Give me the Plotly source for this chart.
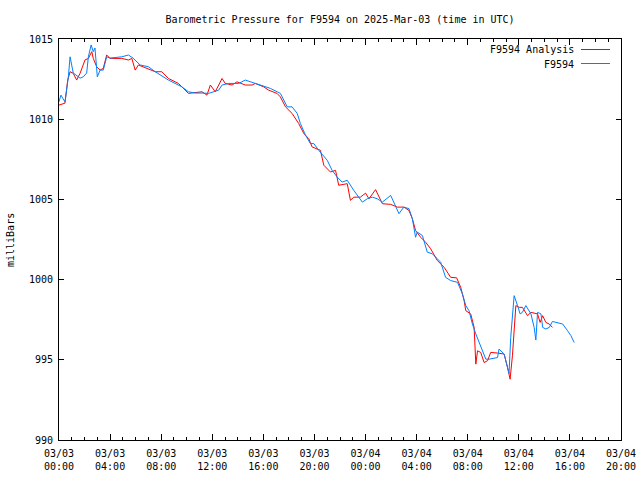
import pandas as pd
import plotly.graph_objects as go

START = pd.Timestamp("2025-03-03 00:00")

# Minutes after 2025-03-03 00:00 UTC and pressure (mb)
analysis_min = [0,28,41,52,67,83,99,122,138,154,161,177,193,208,224,240,295,326,342,358,
                373,452,483,514,561,608,672,695,711,734,766,781,813,836,875,907,922,961,985,1024,
                1040,1064,1095,1126,1150,1173,1189,1228,1244,1275,1299,1314,1354,1369,1385,1416,1440,1456,1487,1519,
                1558,1589,1620,1644,1660,1675,1699,1722,1746,1777,1809,1840,1868,1887,1903,1911,1934,1950,1958,1966,
                1981,1997,2013,2028,2060,2091,2107,2119,2130,2146,2162,2177,2201,2217,2248,2260,2272,2287,2303,2318]
analysis_p = [1010.88,1011.0,1012.44,1012.96,1012.86,1012.44,1012.86,1013.69,1013.79,1014.21,
              1013.79,1013.27,1013.06,1013.17,1014.0,1013.79,1013.79,1013.69,1013.79,1013.06,
              1013.38,1012.96,1012.96,1012.54,1012.23,1011.61,1011.71,1011.5,1012.13,1011.71,
              1012.54,1012.23,1012.13,1012.33,1012.13,1012.13,1012.23,1012.02,1011.81,1011.61,
              1011.39,1010.77,1010.36,1009.73,1009.11,1008.79,1008.27,1008.06,1007.13,1006.71,
              1006.81,1005.88,1005.98,1004.94,1005.14,1005.14,1005.39,1005.04,1005.61,1004.73,
              1004.69,1004.52,1004.52,1004.31,1003.79,1003.06,1002.64,1002.33,1001.92,1001.19,
              1000.77,1000.14,1000.11,999.52,998.69,998.06,997.86,997.02,994.73,995.56,
              995.46,994.83,994.94,995.46,995.42,995.36,994.52,993.79,995.25,998.38,
              998.27,998.27,997.75,997.96,997.86,997.33,997.75,997.33,997.23,997.02]

station_min = [0,9,28,44,52,67,99,114,130,138,151,161,169,180,193,208,224,240,295,326,
               348,381,420,452,514,577,608,640,672,703,750,766,797,844,875,907,922,946,993,1040,
               1072,1095,1119,1134,1158,1181,1197,1220,1260,1283,1307,1330,1354,1385,1425,1448,1472,1495,1519,1558,
               1573,1597,1620,1644,1660,1667,1675,1683,1707,1730,1754,1793,1816,1840,1872,1895,1911,1926,1942,1958,
               1981,2005,2020,2060,2067,2091,2107,2114,2122,2138,2154,2166,2177,2193,2217,2232,2240,2248,2264,2272,
               2287,2303,2318,2342,2366,2389,2405,2420]
station_p = [1011.09,1011.5,1011.08,1012.64,1013.89,1012.88,1012.56,1012.64,1012.88,1013.89,
             1014.63,1014.21,1014.44,1012.64,1013.06,1013.06,1013.89,1013.81,1013.89,1014.0,
             1013.81,1013.38,1013.27,1012.96,1012.44,1012.02,1011.71,1011.63,1011.63,1011.61,
             1011.81,1012.13,1012.23,1012.23,1012.44,1012.33,1012.23,1012.13,1011.92,1011.61,
             1010.77,1010.77,1010.36,1009.73,1009.0,1008.48,1008.48,1008.06,1007.44,1006.81,
             1006.39,1006.08,1006.19,1005.56,1004.83,1005.04,1005.14,1005.04,1004.83,1005.25,
             1004.83,1004.11,1004.52,1004.42,1003.79,1003.27,1002.64,1002.96,1002.75,1001.71,
             1001.61,1001.08,1000.14,999.94,999.83,999.11,998.38,998.06,997.23,996.61,
             995.88,995.04,995.04,995.14,995.67,995.36,994.52,994.14,996.39,999.0,
             998.38,997.86,997.96,998.38,997.86,997.02,996.23,997.96,997.86,997.02,
             996.92,997.02,997.39,997.33,997.23,996.81,996.5,996.08]

tick_hours = [0, 4, 8, 12, 16, 20, 24, 28, 32, 36, 40, 44]
tick_labels = ["03/03<br>00:00", "03/03<br>04:00", "03/03<br>08:00", "03/03<br>12:00",
               "03/03<br>16:00", "03/03<br>20:00", "03/04<br>00:00", "03/04<br>04:00",
               "03/04<br>08:00", "03/04<br>12:00", "03/04<br>16:00", "03/04<br>20:00"]
y_ticks = [990, 995, 1000, 1005, 1010, 1015]

series_names = ["F9594 Analysis", "F9594"]
series_colors = ["#ff0000", "#0080ff"]

FONT = "DejaVu Sans Mono"

def to_time(mins):
    return [START + pd.Timedelta(minutes=m) for m in mins]

fig = go.Figure()
fig.add_trace(go.Scatter(x=to_time(analysis_min), y=analysis_p, mode="lines",
                         line=dict(color=series_colors[0], width=1), name=series_names[0]))
fig.add_trace(go.Scatter(x=to_time(station_min), y=station_p, mode="lines",
                         line=dict(color=series_colors[1], width=1), name=series_names[1]))

W, H = 640, 480
L, R, T, B = 59, 19, 39, 40
pw, ph = W - L - R, H - T - B

def px(x):
    return (x - L) / pw

def py(y):
    return (H - B - y) / ph

fig.update_layout(
    width=W, height=H,
    margin=dict(l=L, r=R, t=T, b=B),
    paper_bgcolor="white", plot_bgcolor="white",
    font=dict(family=FONT, size=10, color="black"),
    showlegend=False,
    title=dict(text="Barometric Pressure for F9594 on 2025-Mar-03 (time in UTC)",
               x=0.5, xref="paper", xanchor="center",
               y=1 - 19 / H, yref="container", yanchor="middle",
               font=dict(family=FONT, size=10, color="black")),
    xaxis=dict(
        range=[START, START + pd.Timedelta(hours=44)],
        tickvals=[START + pd.Timedelta(hours=h) for h in tick_hours],
        ticktext=tick_labels,
        ticks="inside", ticklen=6, tickcolor="black", tickwidth=1,
        minor=dict(ticks="inside", ticklen=3, dtick=3600000, tickcolor="black", showgrid=False),
        showline=True, linecolor="black", linewidth=1, mirror="ticks",
        showgrid=False, zeroline=False, automargin=False,
        ticklabelstandoff=4,
        tickfont=dict(family=FONT, size=10, color="black"),
    ),
    yaxis=dict(
        range=[990, 1015],
        tickvals=y_ticks,
        ticks="inside", ticklen=5, tickcolor="black", tickwidth=1,
        showline=True, linecolor="black", linewidth=1, mirror="ticks",
        showgrid=False, zeroline=False, automargin=False,
        ticklabelstandoff=3,
        tickfont=dict(family=FONT, size=10, color="black"),
    ),
)

# y axis label
fig.add_annotation(text="milliBars", xref="paper", yref="paper",
                   x=px(10), y=py(240), xanchor="center", yanchor="middle",
                   textangle=-90, showarrow=False,
                   font=dict(family=FONT, size=10, color="black"))

# gnuplot-style key: text right-aligned, sample line to its right
key_rows = [50, 64]
for name, color, ky in zip(series_names, series_colors, key_rows):
    fig.add_annotation(text=name, xref="paper", yref="paper",
                       x=px(576), y=py(ky), xanchor="right", yanchor="middle",
                       showarrow=False, font=dict(family=FONT, size=10, color="black"))
    fig.add_shape(type="line", xref="paper", yref="paper",
                  x0=px(581), x1=px(610), y0=py(ky - 0.5), y1=py(ky - 0.5),
                  line=dict(color=color, width=1))

fig.write_html("out.html")
